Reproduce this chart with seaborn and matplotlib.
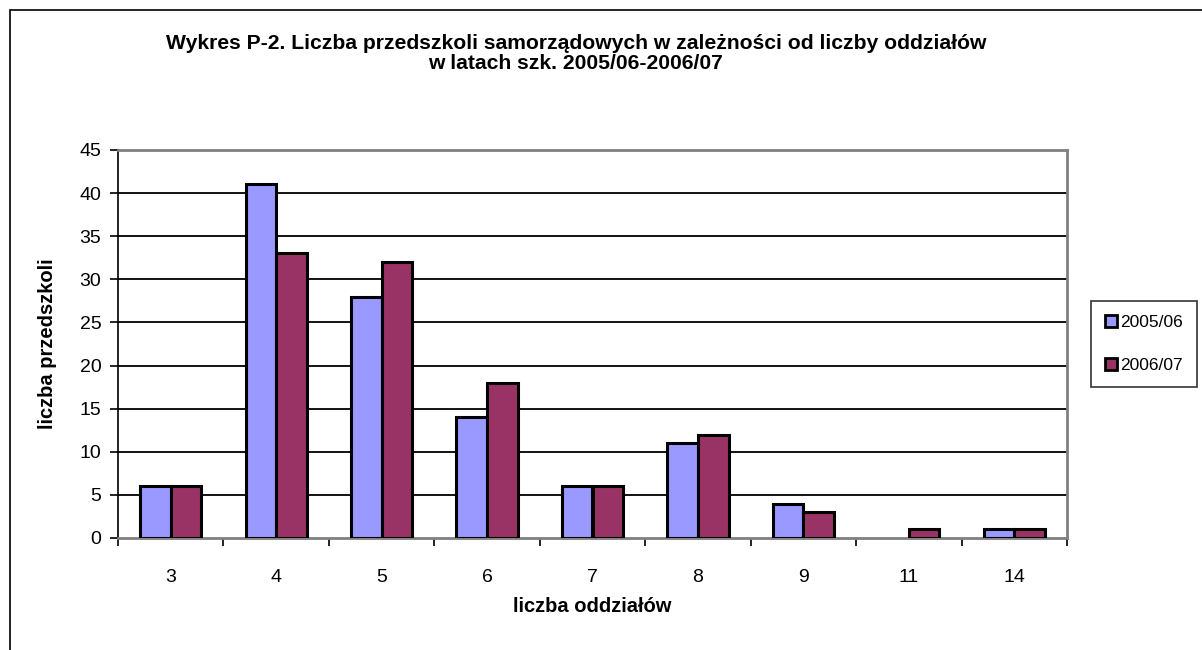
import pandas as pd
import matplotlib.pyplot as plt
import seaborn as sns
from matplotlib.patches import Rectangle

# Data
oddzialy = ['3', '4', '5', '6', '7', '8', '9', '11', '14']
rok_2005 = [6, 41, 28, 14, 6, 11, 4, 0, 1]
rok_2006 = [6, 33, 32, 18, 6, 12, 3, 1, 1]
lata = ['2005/06', '2006/07']
kolory = ['#9999FF', '#993366']

df = pd.DataFrame({
    'oddzialy': oddzialy * 2,
    'liczba': rok_2005 + rok_2006,
    'rok': [lata[0]] * len(oddzialy) + [lata[1]] * len(oddzialy),
})

sns.set_theme(style='white', rc={'text.color': 'black', 'axes.labelcolor': 'black',
                                 'xtick.color': 'black', 'ytick.color': 'black'})
plt.rcParams['font.family'] = ['Liberation Sans', 'DejaVu Sans']

fig = plt.figure(figsize=(12.02, 6.5), dpi=100)
ax = fig.add_axes([118 / 1202, 1 - 538 / 650, (1067 - 118) / 1202, (538 - 150) / 650])

sns.barplot(data=df, x='oddzialy', y='liczba', hue='rok', order=oddzialy,
            palette=kolory, width=0.58, edgecolor='black', linewidth=2.2,
            saturation=1, ax=ax, zorder=3)

# hide outline of empty bars
for p in ax.patches:
    if p.get_height() == 0:
        p.set_linewidth(0)

ax.set_ylim(0, 45)
ax.set_xlim(-0.5, len(oddzialy) - 0.5)
ax.set_yticks(range(0, 50, 5))
for y in range(5, 45, 5):
    ax.axhline(y, color='black', linewidth=1.3, zorder=1)

# category boundary ticks on x axis
ax.set_xticks([i - 0.5 for i in range(len(oddzialy) + 1)], minor=True)
ax.tick_params(axis='x', which='major', length=0, pad=22, labelsize=14)
ax.tick_params(axis='x', which='minor', length=6, width=1.2, color='black', direction='out')
ax.tick_params(axis='y', length=6, width=1.2, color='black', direction='out', labelsize=14, pad=6)
ax.tick_params(bottom=True, left=True, which='both')

for side in ['top', 'right', 'bottom']:
    ax.spines[side].set_color('#808080')
    ax.spines[side].set_linewidth(2)
ax.spines['left'].set_color('black')
ax.spines['left'].set_linewidth(1.2)

ax.set_xlabel('liczba oddziałów', fontsize=14.5, fontweight='bold', labelpad=8)
ax.set_ylabel('liczba przedszkoli', fontsize=14.5, fontweight='bold', labelpad=16)

fig.text(0.479, 0.918, 'Wykres P-2. Liczba przedszkoli samorządowych w zależności od liczby oddziałów\nw latach szk. 2005/06-2006/07',
         ha='center', va='center', fontsize=15.2, fontweight='bold', linespacing=1.05)

leg = ax.legend(loc='center left', bbox_to_anchor=(1091 / 1202, 1 - 344 / 650),
                bbox_transform=fig.transFigure, frameon=True, fontsize=12.5,
                handlelength=0.7, handleheight=0.7, handletextpad=0.2,
                labelspacing=1.6, borderpad=0.8, borderaxespad=0, fancybox=False)
leg.get_frame().set_edgecolor('black')
leg.get_frame().set_linewidth(1.2)
for h in leg.legend_handles:
    h.set_edgecolor('black')
    h.set_linewidth(2)

# outer chart frame
fig.patches.append(Rectangle((10 / 1202, -0.1), 1.2, 1 - 10 / 650 + 0.1,
                             transform=fig.transFigure, fill=False,
                             edgecolor='black', linewidth=1.2))

fig.savefig('out.png', dpi=100)
